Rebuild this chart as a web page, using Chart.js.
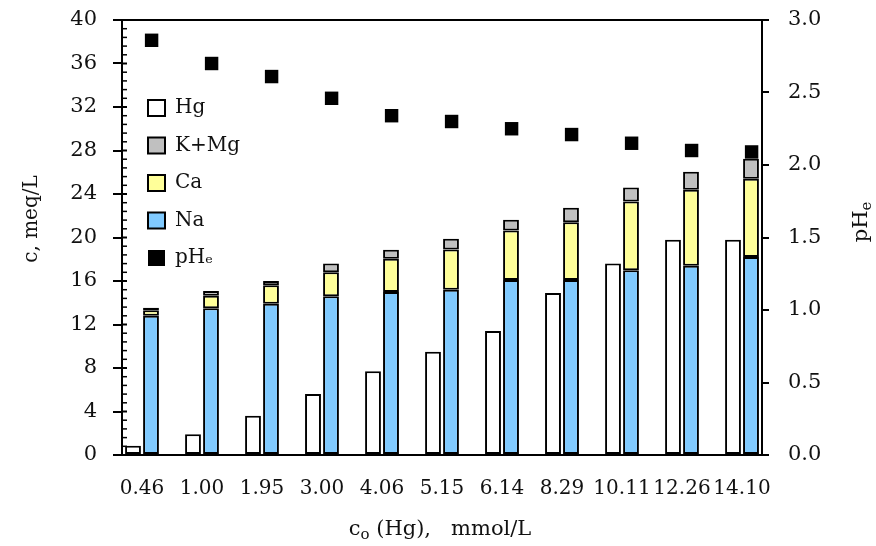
<!DOCTYPE html>
<html>
<head>
<meta charset="utf-8">
<script src="https://cdn.jsdelivr.net/npm/chart.js@4/dist/chart.umd.min.js"></script>
<style>
  html, body { margin: 0; padding: 0; background: #fff; }
  #grafico { display: block; }
</style>
</head>
<body>
<canvas id="grafico" width="876" height="546"></canvas>
<script>
// x categories: initial Hg concentration, mmol/L
const categories = ['0.46', '1.00', '1.95', '3.00', '4.06', '5.15', '6.14', '8.29', '10.11', '12.26', '14.10'];

// concentrations, meq/L
const hg  = [0.85, 1.9, 3.6, 5.6, 7.7, 9.5, 11.4, 14.9, 17.6, 19.8, 19.8];
const na  = [12.8, 13.5, 13.9, 14.6, 15.0, 15.2, 16.1, 16.1, 17.0, 17.4, 18.2];
const ca  = [0.5, 1.15, 1.7, 2.2, 3.05, 3.7, 4.55, 5.3, 6.3, 7.0, 7.2];
const kmg = [0.25, 0.43, 0.4, 0.8, 0.83, 0.98, 0.98, 1.34, 1.3, 1.65, 1.84];

// equilibrium pH (right axis)
const phe = [2.86, 2.70, 2.61, 2.46, 2.34, 2.30, 2.25, 2.21, 2.15, 2.10, 2.09];

const leftTicks = [0, 4, 8, 12, 16, 20, 24, 28, 32, 36, 40];
const rightTicks = [0, 0.5, 1.0, 1.5, 2.0, 2.5, 3.0];
const legendOrder = ['Hg', 'K+Mg', 'Ca', 'Na', 'pHₑ'];

const FONT = 'DejaVu Serif';
Chart.defaults.font.family = FONT;
Chart.defaults.font.size = 20;
Chart.defaults.color = '#111';

const pts = arr => arr.map((v, i) => ({ x: i, y: v }));

function barSet(label, values, color, stack) {
    return {
        label: label,
        data: pts(values),
        backgroundColor: color,
        borderColor: '#000',
        borderWidth: 2,
        borderSkipped: false,
        stack: stack,
        categoryPercentage: 0.6,
        barPercentage: 0.88,
        yAxisID: 'y'
    };
}

// fixed axis box sizes, no extra label padding around the plot
function fixBox(size) {
    return s => {
        if (s.isHorizontal()) s.height = size; else s.width = size;
        s.paddingTop = 0; s.paddingBottom = 0;
        s.paddingLeft = 0; s.paddingRight = 0;
    };
}

// text with a subscript part, centred on (0,0) of current transform
function richText(ctx, parts, size) {
    let total = 0;
    const fontOf = p => (p.sub ? Math.round(size * 0.7) : size) + 'px "' + FONT + '"';
    parts.forEach(p => {
        ctx.font = fontOf(p);
        p.w = ctx.measureText(p.t).width;
        total += p.w;
    });
    let x = -total / 2;
    parts.forEach(p => {
        ctx.font = fontOf(p);
        ctx.fillText(p.t, x, p.sub ? 5 : 0);
        x += p.w;
    });
}

const extras = {
    id: 'extras',
    afterLayout(chart) {
        // legend sits inside the plot, near the left axis
        chart.legend.left = chart.chartArea.left + 8.5;
        chart.legend.top = chart.chartArea.top + 60.5;
    },
    beforeDatasetsDraw(chart) {
        const ctx = chart.ctx;
        const y = chart.scales.y;
        const x0 = chart.chartArea.left;
        ctx.save();
        ctx.strokeStyle = '#000';
        for (let k = 0; k <= 50; k++) {
            const v = k * 0.8;
            const py = y.getPixelForValue(v);
            ctx.lineWidth = k % 5 === 0 ? 2 : 1.5;
            ctx.beginPath();
            ctx.moveTo(x0, py);
            ctx.lineTo(x0 + 5, py);
            ctx.stroke();
        }
        ctx.restore();
    },
    afterDraw(chart) {
        const ctx = chart.ctx;
        ctx.save();
        ctx.fillStyle = '#111';
        ctx.textBaseline = 'middle';
        ctx.textAlign = 'left';

        ctx.save();
        ctx.translate(32, 219);
        ctx.rotate(-Math.PI / 2);
        richText(ctx, [{ t: 'c, meq/L' }], 20);
        ctx.restore();

        ctx.save();
        ctx.translate(862, 222);
        ctx.rotate(-Math.PI / 2);
        richText(ctx, [{ t: 'pH' }, { t: 'e', sub: true }], 21);
        ctx.restore();

        ctx.save();
        ctx.translate(440, 530);
        richText(ctx, [{ t: 'c' }, { t: 'o', sub: true }, { t: ' (Hg),   mmol/L' }], 21);
        ctx.restore();

        ctx.restore();
    }
};

new Chart(document.getElementById('grafico'), {
    type: 'bar',
    data: {
        datasets: [
            barSet('Hg', hg, '#ffffff', 'a'),
            barSet('Na', na, '#80caff', 'b'),
            barSet('Ca', ca, '#ffff99', 'b'),
            barSet('K+Mg', kmg, '#c0c0c0', 'b'),
            {
                type: 'scatter',
                label: 'pHₑ',
                data: phe.map((v, i) => ({ x: i + 0.16, y: v })),
                yAxisID: 'y2',
                pointStyle: 'rect',
                pointRadius: 9.5,
                pointHoverRadius: 9.5,
                backgroundColor: '#000',
                borderColor: '#000',
                borderWidth: 0,
                order: -1
            }
        ]
    },
    options: {
        responsive: false,
        animation: false,
        layout: { padding: 0, autoPadding: false },
        plugins: {
            tooltip: { enabled: false },
            legend: {
                position: 'chartArea',
                align: 'start',
                labels: {
                    boxWidth: 17,
                    boxHeight: 16,
                    padding: 17.5,
                    color: '#111',
                    font: { size: 20 },
                    sort: (a, b) => legendOrder.indexOf(a.text) - legendOrder.indexOf(b.text)
                }
            }
        },
        scales: {
            x: {
                type: 'linear',
                position: 'bottom',
                offset: false,
                min: -1 / 3,
                max: categories.length - 1 + 1 / 3,
                grid: { display: false, drawTicks: false, offset: false },
                border: { display: true, color: '#000', width: 2 },
                afterBuildTicks: s => { s.ticks = categories.map((c, i) => ({ value: i })); },
                afterFit: fixBox(91),
                ticks: {
                    padding: 22,
                    maxRotation: 0,
                    autoSkip: false,
                    callback: v => categories[v]
                }
            },
            xTop: {
                type: 'linear',
                position: 'top',
                offset: false,
                grid: { display: false, drawTicks: false },
                border: { display: true, color: '#000', width: 2 },
                ticks: { display: false },
                afterFit: fixBox(20)
            },
            y: {
                position: 'left',
                stacked: true,
                min: 0,
                max: 40,
                grid: { drawOnChartArea: false, drawTicks: true, tickLength: 9, color: '#000', lineWidth: 2 },
                border: { display: true, color: '#000', width: 2 },
                afterBuildTicks: s => { s.ticks = leftTicks.map(v => ({ value: v })); },
                afterFit: fixBox(122),
                ticks: { padding: 16, font: { size: 21 } }
            },
            y2: {
                position: 'right',
                min: 0,
                max: 3,
                grid: { drawOnChartArea: false, drawTicks: true, tickLength: 7, color: '#000', lineWidth: 2 },
                border: { display: true, color: '#000', width: 2 },
                afterBuildTicks: s => { s.ticks = rightTicks.map(v => ({ value: v })); },
                afterFit: fixBox(114),
                ticks: { padding: 19, font: { size: 21 }, callback: v => v.toFixed(1) }
            }
        }
    },
    plugins: [extras]
});
</script>
</body>
</html>
